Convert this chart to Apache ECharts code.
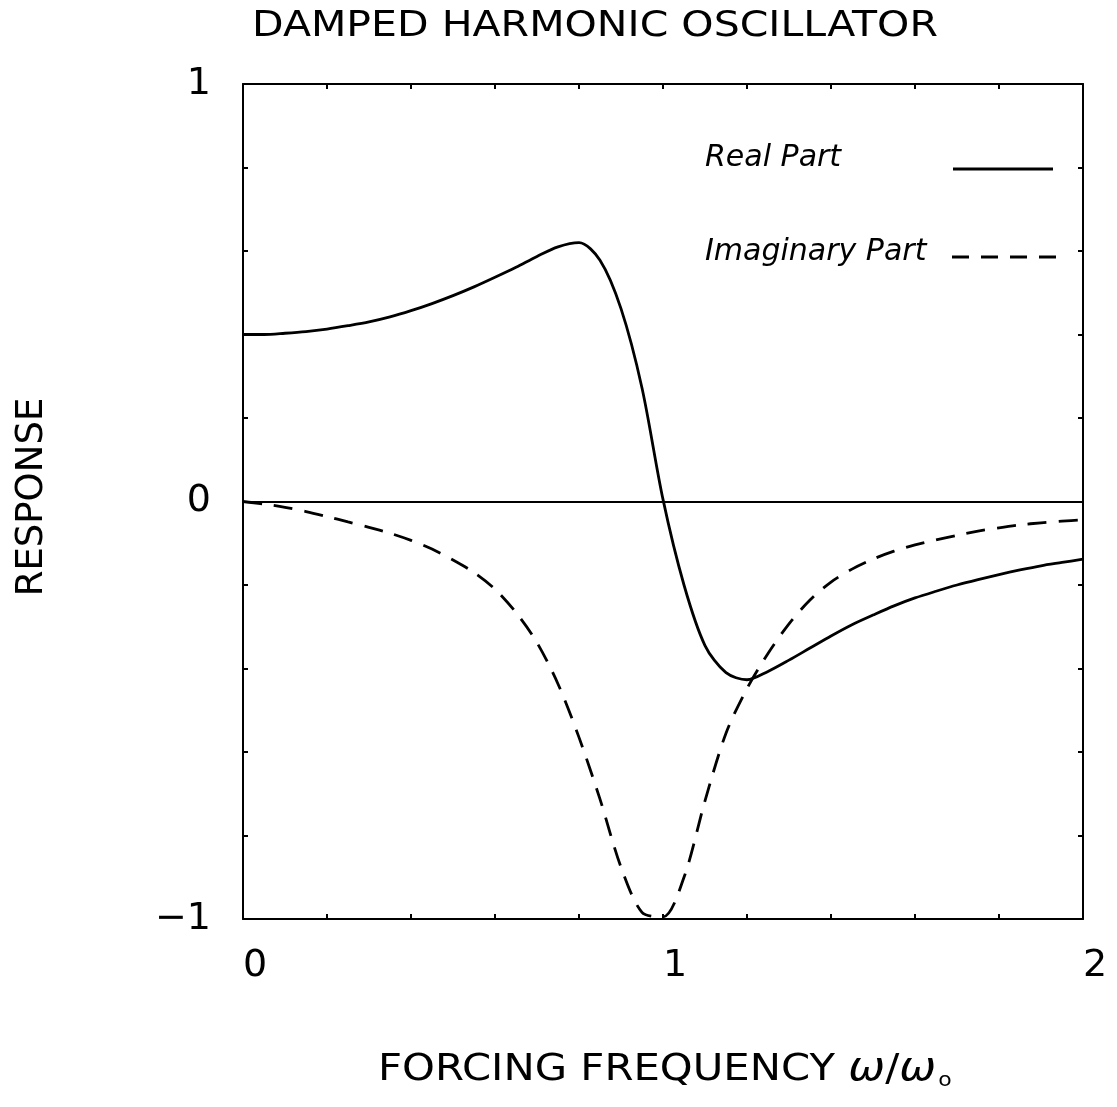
<!DOCTYPE html>
<html><head><meta charset="utf-8">
<script src="https://cdn.jsdelivr.net/npm/echarts@6/dist/echarts.min.js"></script>
<style>html,body{margin:0;padding:0;background:#fff}#c{width:1117px;height:1107px}</style>
</head><body><div id="c"></div>
<script>
// ---- data ----
const titleText = 'DAMPED HARMONIC OSCILLATOR';
const xAxisName = 'FORCING FREQUENCY';
const yAxisName = 'RESPONSE';
const seriesNames = ['Real Part', 'Imaginary Part'];
const xTickLabels = ['0', '1', '2'];
const yTickLabels = ['\u22121', '0', '1'];

// forcing frequency samples (omega / omega0)
const freq = [0.00, 0.05, 0.10, 0.15, 0.20, 0.25, 0.30, 0.35, 0.40, 0.45,
              0.50, 0.55, 0.60, 0.65, 0.70, 0.75, 0.80, 0.85, 0.90, 0.95,
              1.00, 1.05, 1.10, 1.15, 1.20, 1.25, 1.30, 1.35, 1.40, 1.45,
              1.50, 1.55, 1.60, 1.65, 1.70, 1.75, 1.80, 1.85, 1.90, 1.95, 2.00];

const realPart = [0.400, 0.400, 0.403, 0.407, 0.413, 0.421, 0.430, 0.442, 0.457, 0.474,
                  0.493, 0.514, 0.537, 0.561, 0.587, 0.610, 0.620, 0.578, 0.462, 0.272,
                  0.005, -0.200, -0.345, -0.410, -0.427, -0.407, -0.380, -0.351, -0.322, -0.295,
                  -0.272, -0.250, -0.231, -0.215, -0.200, -0.187, -0.175, -0.164, -0.154, -0.146, -0.138];

const imagPart = [0.000, -0.006, -0.014, -0.024, -0.036, -0.049, -0.062, -0.076, -0.093, -0.114,
                  -0.140, -0.170, -0.210, -0.266, -0.338, -0.437, -0.565, -0.713, -0.876, -0.984,
                  -0.995, -0.900, -0.717, -0.555, -0.448, -0.364, -0.293, -0.236, -0.193, -0.162,
                  -0.138, -0.119, -0.104, -0.092, -0.081, -0.071, -0.063, -0.056, -0.051, -0.047, -0.044];

// ---- chart ----
const zip = (xs, ys) => xs.map((x, i) => [x, ys[i]]);
const isInt = v => Math.abs(v - Math.round(v)) < 1e-6;
const font = 'DejaVu Sans';
const ink = '#000';

const chart = echarts.init(document.getElementById('c'), null, {renderer: 'canvas'});

const baseAxis = {
  type: 'value',
  interval: 0.2,
  axisLine: {show: true, onZero: false, lineStyle: {color: ink, width: 2}},
  axisTick: {show: true, inside: true, length: 5, lineStyle: {color: ink, width: 2}},
  splitLine: {show: false}
};

chart.setOption({
  backgroundColor: '#fff',
  animation: false,
  grid: {left: 243, right: 34, top: 84, bottom: 188, containLabel: false},
  xAxis: [
    Object.assign({}, baseAxis, {
      min: 0, max: 2, position: 'bottom',
      axisLabel: {
        show: true, margin: 28, color: ink, fontFamily: font, fontSize: 38,
        padding: [0, 0, 0, 24],
        formatter: v => isInt(v) ? xTickLabels[Math.round(v)] : ''
      }
    }),
    Object.assign({}, baseAxis, {min: 0, max: 2, position: 'top', axisLabel: {show: false}})
  ],
  yAxis: [
    Object.assign({}, baseAxis, {
      min: -1, max: 1, position: 'left',
      axisLabel: {
        show: true, margin: 32, color: ink, fontFamily: font, fontSize: 38,
        formatter: v => isInt(v) ? yTickLabels[Math.round(v) + 1] : ''
      }
    }),
    Object.assign({}, baseAxis, {min: -1, max: 1, position: 'right', axisLabel: {show: false}})
  ],
  series: [
    {
      name: seriesNames[0], type: 'line', data: zip(freq, realPart),
      smooth: 0.3, showSymbol: false, xAxisIndex: 0, yAxisIndex: 0,
      lineStyle: {color: ink, width: 2.8},
      markLine: {
        silent: true, symbol: ['none', 'none'], label: {show: false},
        lineStyle: {color: ink, width: 2, type: 'solid'},
        data: [{yAxis: 0}]
      }
    },
    {
      name: seriesNames[1], type: 'line', data: zip(freq, imagPart),
      smooth: 0.3, showSymbol: false, xAxisIndex: 0, yAxisIndex: 0,
      lineStyle: {color: ink, width: 2.8, type: [19, 12]}
    }
  ],
  graphic: [
    {type: 'text', x: 252, y: 27, scaleX: 1.14,
     style: {text: titleText, font: '36px "DejaVu Sans"', fill: ink, align: 'left', verticalAlign: 'middle'}},
    {type: 'text', x: 32, y: 497, rotation: Math.PI / 2,
     style: {text: yAxisName, font: '37px "DejaVu Sans"', fill: ink, align: 'center', verticalAlign: 'middle'}},
    {type: 'text', x: 378, y: 1070, scaleX: 1.1,
     style: {
       text: xAxisName + ' {w|\u03c9}/{w|\u03c9}{s|o}',
       font: '38px "DejaVu Sans"', fill: ink, align: 'left', verticalAlign: 'middle',
       rich: {
         w: {fontFamily: font, fontSize: 40, fontStyle: 'italic', fill: ink},
         s: {fontFamily: font, fontSize: 20, fill: ink, padding: [22, 0, 0, 2]}
       }
     }},
    {type: 'text', x: 705, y: 158,
     style: {text: seriesNames[0], font: 'italic 30px "DejaVu Sans"', fill: ink, align: 'left', verticalAlign: 'middle'}},
    {type: 'line', shape: {x1: 953, y1: 169, x2: 1053, y2: 169},
     style: {stroke: ink, lineWidth: 2.8}},
    {type: 'text', x: 705, y: 252,
     style: {text: seriesNames[1], font: 'italic 30px "DejaVu Sans"', fill: ink, align: 'left', verticalAlign: 'middle'}},
    {type: 'line', shape: {x1: 952, y1: 257, x2: 1058, y2: 257},
     style: {stroke: ink, lineWidth: 2.8, lineDash: [17, 12]}}
  ]
});
</script>
</body></html>
